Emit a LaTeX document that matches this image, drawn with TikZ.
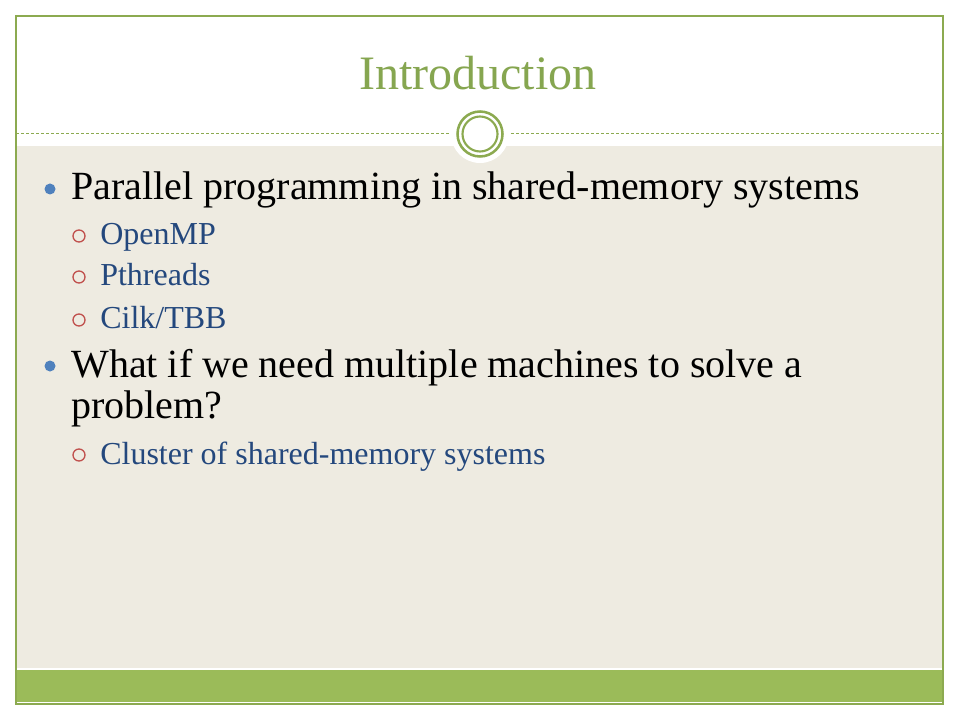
\documentclass[tikz,border=0pt]{standalone}
\usepackage{fontspec}
\setmainfont{Liberation Serif}
\definecolor{titlegreen}{RGB}{134,166,80}
\definecolor{bargreen}{RGB}{155,187,89}
\definecolor{bordergreen}{RGB}{140,170,80}
\definecolor{beige}{RGB}{238,235,225}
\definecolor{dotblue}{RGB}{79,129,189}
\definecolor{subblue}{RGB}{36,72,125}
\definecolor{ringred}{RGB}{192,80,77}
\begin{document}
\begin{tikzpicture}[x=0.75pt,y=-0.75pt,
  maintext/.style={anchor=base west,inner sep=0pt,font=\fontsize{30}{36}\selectfont,text=black},
  subtext/.style={anchor=base west,inner sep=0pt,font=\fontsize{24}{29}\selectfont,text=subblue},
  dotbullet/.style={circle,fill=dotblue,minimum size=8.25pt,inner sep=0pt},
  ringbullet/.style={circle,draw=ringred,line width=1pt,minimum size=9pt,inner sep=0pt}]
\useasboundingbox (0,0) rectangle (960,720);
\fill[white] (0,0) rectangle (960,720);
% body
\fill[beige] (16,146) rectangle (943,668);
\fill[bargreen] (16,670) rectangle (943,702);
% dashed rule
\draw[bordergreen,line width=0.75pt,dash pattern=on 2.25pt off 1.5pt] (16,134) -- (943,134);
% frame
\draw[bordergreen,line width=0.9pt] (16,16) rectangle (943,704);
% emblem
\node[circle,fill=white,minimum size=43.5pt,inner sep=0pt] (emb) at (480,134) {};
\draw[bordergreen,line width=1.9pt] (emb.center) circle (22.5);
\draw[bordergreen,line width=1.6pt] (emb.center) circle (17.5);
% title
\node[anchor=base,inner sep=0pt,font=\fontsize{36}{43}\selectfont,text=titlegreen] (title) at (478,90) {Introduction};
% bullets
\node[dotbullet] (b1) at (50,189) {};
\node[maintext] (t1) at (71,200) {Parallel programming in shared-memory systems};
\node[ringbullet] (r1) at (79,236) {};
\node[subtext] (s1) at (100,245) {OpenMP};
\node[ringbullet] (r2) at (79,277) {};
\node[subtext] (s2) at (100,286) {Pthreads};
\node[ringbullet] (r3) at (79,320) {};
\node[subtext] (s3) at (100,329) {Cilk/TBB};
\node[dotbullet] (b2) at (50,366) {};
\node[maintext] (t2) at (71,377) {What if we need multiple machines to solve a};
\node[maintext] (t2b) at (71,418) {problem?};
\node[ringbullet] (r4) at (79,455) {};
\node[subtext] (s4) at (100,464) {Cluster of shared-memory systems};
\end{tikzpicture}
\end{document}
